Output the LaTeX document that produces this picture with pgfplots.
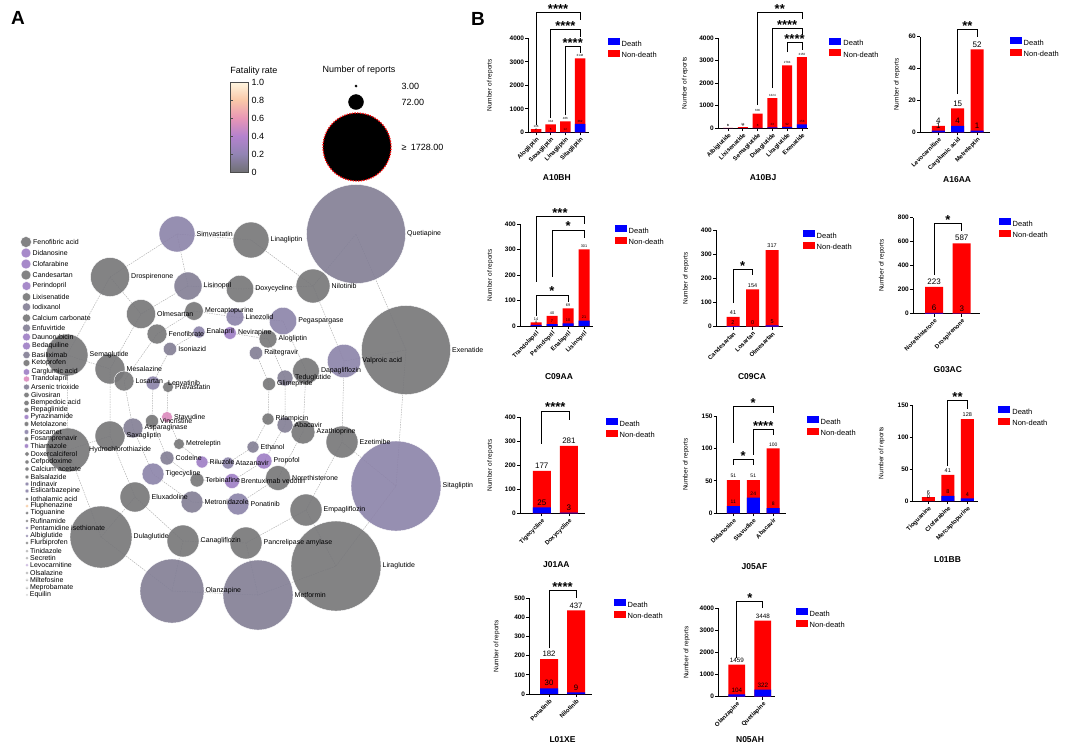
\documentclass[border=0pt]{standalone}
\usepackage{fontspec}
\setmainfont{Liberation Sans}
\usepackage{pgfplots}
\usepackage{pgfplotstable}
\pgfplotsset{compat=1.18}
\newcommand\fsz[1]{\fontsize{#1}{#1}\selectfont}

\definecolor{gcol}{RGB}{120,120,122}
\definecolor{lgcol}{RGB}{132,128,150}
\definecolor{lvcol}{RGB}{141,133,170}
\definecolor{pucol}{RGB}{160,128,198}
\definecolor{pkcol}{RGB}{220,140,190}
\definecolor{pecol}{RGB}{248,204,164}

\pgfplotsset{
  /pgf/number format/1000 sep={},
  /pgf/number format/assume math mode=true,
  colormap={fatal}{rgb255=(112,112,116) rgb255=(146,132,180) rgb255=(180,130,206) rgb255=(232,150,182) rgb255=(250,200,168) rgb255=(255,246,224)},
  bub/.style={scatter, only marks, mark=*, point meta=explicit,
    point meta min=0, point meta max=100,
    scatter/use mapped color={draw=white, fill=#1},
    scatter/@pre marker code/.append style={/tikz/mark size=\pgfplotspointmetatransformed/10},
    mark options={line width=0.4pt, fill opacity=0.92}},
  lbl/.style={only marks, mark=*, mark size=0pt, mark options={draw=none, fill=none},
    point meta=explicit symbolic, nodes near coords,
    nodes near coords style={anchor=west, inner sep=0pt, text=black, font=\fsz{7}}},
  bpanel/.style={
    scale only axis, anchor=south west, clip=false, ymin=0,
    axis x line*=bottom, axis y line*=left,
    axis line style={line width=0.9pt,-},
    tick align=outside, major tick length=3pt,
    tick style={line width=0.8pt, black},
    yticklabel style={font=\bfseries\fsz{6.5}, inner sep=1pt},
    xticklabel style={font=\bfseries\fsz{6}, rotate=45, anchor=north east, inner sep=1pt},
    ylabel={Number of reports},
    ylabel style={font=\fsz{6.5}, anchor=center},
    xlabel style={font=\bfseries\fsz{8.5}, anchor=center},
    reverse legend,
    legend style={draw=none, fill=none, inner sep=0pt, anchor=north west,
      font=\fsz{7.5}, cells={anchor=west}},
    legend image code/.code={\fill[##1, draw=none] (0pt,-1pt) rectangle (12pt,6pt);},
    nodes near coords style={text=black, inner sep=1.5pt},
  },
  ndth/.style={ybar, bar width=#1, bar shift=0pt, fill=red, draw=none, nodes near coords},
  dth/.style={ybar, bar width=#1, bar shift=0pt, fill=blue, draw=none, nodes near coords},
  brk/.style={sharp plot, black, line width=0.8pt, mark=none, forget plot},
  edge/.style={sharp plot, black, opacity=0.3, line width=0.5pt, dash pattern=on 1.5pt off 1pt, mark=none, forget plot},
}
\tikzset{stars/.style={anchor=base, font=\bfseries\fsz{13}, inner sep=0pt, yshift=-1pt}}

% bubbles by fatality-rate colour class: centre (px), radius (px), label x
\pgfplotstableread[col sep=comma]{
name,x,y,r,lx
Linagliptin,251,240,18,270.5
Drospirenone,110,277,19.5,131
Doxycycline,240,289,13.7,255.2
Nilotinib,313,286,17,331.5
Olmesartan,141,314,14.5,157
Mercaptopurine,194,311,9.3,204.8
Fenofibrate,157,334,10,168.5
Alogliptin,268,339,9,278.5
Exenatide,406,350,44.5,452
Semaglutide,67,355,21,89.5
Mesalazine,110,369,15,126.5
Losartan,124,381,10,135.5
Pravastatin,168,387,5.5,175
Dapagliflozin,306,371,13.3,320.8
Glimepiride,269,384,6.5,277
Vincristine,152,421,6.5,160
Saxagliptin,110,436,15,126.5
Hydrochlorothiazide,68,450,22,89
Rifampicin,268,419,6,275.5
Azathioprine,303,432,12,316.5
Ezetimibe,342,442,16,359.5
Metreleptin,179,444,5.5,186
Terbinafine,197,480,7,205.5
Norethisterone,278,478,12.5,292
Eluxadoline,135,497,15,151.5
Empagliflozin,306,510,16,323.5
Dulaglutide,101,537,31,133.5
Canagliflozin,183,541,16,200.5
Pancrelipase amylase,246,543,16,263.5
Liraglutide,336,566,45,382.5
Fenofibric acid,26,242,5.5,33
Candesartan,26,275,5,32.5
Lixisenatide,26.5,297,4.3,32.3
Calcium carbonate,26.5,318,4.1,32.1
Ketoprofen,26.5,363,3.5,31.5
Givosiran,26.5,395,2.8,30.8
Bempedoic acid,26.5,403,2.7,30.7
Repaglinide,26.5,410,2.6,30.6
Metolazone,26.5,424,2.4,30.4
Fosamprenavir,26.5,439,2.3,30.3
Doxercalciferol,27,454,2.2,30.7
Cefpodoxime,27,462,2.1,30.6
Calcium acetate,27,469,2.1,30.6
Balsalazide,27,477,2,30.5
Iothalamic acid,27,499,1.9,30.4
Tioguanine,27,513,1.8,30.3
Rufinamide,27,521,1.7,30.2
Flurbiprofen,27,543,1.6,30.1
Tinidazole,27,551,1.5,30
Secretin,27,558,1.5,30
Olsalazine,27,573,1.4,29.9
Miltefosine,27,580,1.3,29.8
Meprobamate,27,588,1.3,29.8
Equilin,27,595,1.2,29.7
}\tgray

\pgfplotstableread[col sep=comma]{
name,x,y,r,lx
Quetiapine,356,234,49.5,407
Lisinopril,188,286,14,203.5
Isoniazid,170,349,6.7,178.2
Raltegravir,256,353,6.7,264.2
Teduglutide,285,378,8,295
Asparaginase,133,428,10,144.5
Abacavir,285,425,8,294.5
Ethanol,253,447,6,260.5
Codeine,167,458,7,175.5
Metronidazole,192,502,11,204.5
Olanzapine,172,591,32,205.5
Metformin,258,595,35,294.5
Iodixanol,26.5,307,4.2,32.2
Enfuvirtide,26.5,328,4,32
Basiliximab,26.5,355,3.7,31.7
Arsenic trioxide,26.5,387,3,31
}\tlavgray

\pgfplotstableread[col sep=comma]{
name,x,y,r,lx
Simvastatin,177,234,18,196.5
Linezolid,235,317,9,245.5
Pegaspargase,283,321,13.7,298.2
Enalapril,199,332,6,206.5
Valproic acid,344,361,16.7,362.2
Lenvatinib,153,383,7,168
Atazanavir,228,463,6,235.5
Tigecycline,153,474,11,165.5
Ponatinib,238,504,11,250.5
Sitagliptin,396,486,45,442.5
Foscarnet,26.5,432,2.4,30.4
Indinavir,27,484,2,30.5
Eslicarbazepine,27,491,2,30.5
Pentamidine isethionate,27,528,1.7,30.2
Albiglutide,27,536,1.7,30.2
}\tlav

\pgfplotstableread[col sep=comma]{
name,x,y,r,lx
Nevirapine,230,333,6.3,237.8
Riluzole,202,462,6,209.5
Propofol,264,461,8,273.5
Brentuximab vedotin,232,481,7.5,241
Didanosine,26,253,5,32.5
Clofarabine,26,264,5,32.5
Perindopril,26.5,286,4.5,32.5
Daunorubicin,26.5,337,4,32
Bedaquiline,26.5,346,4,32
Carglumic acid,26.5,372,3.3,31.3
Pyrazinamide,26.5,417,2.5,30.5
Thiamazole,26.5,446,2.3,30.3
Levocarnitine,27,565,1.5,30
}\tpur

\pgfplotstableread[col sep=comma]{
name,x,y,r,lx
Stavudine,167,417,5.5,174
Trandolapril,26.5,379,3.1,31.1
}\tpink

\pgfplotstableread[col sep=comma]{
name,x,y,r,lx
Fluphenazine,27,506,1.8,30.3
}\tpeach

\begin{document}
\begin{tikzpicture}
\useasboundingbox (0pt,0pt) rectangle (1065pt,-745pt);

%% ---------------- panel A ----------------
\begin{axis}[at={(0pt,-745pt)}, anchor=south west, scale only axis,
  width=460pt, height=745pt, xmin=0, xmax=460, ymin=0, ymax=745,
  y dir=reverse, hide axis, clip=false]
\addplot[bub=gcol] table[x=x, y=y, meta=r] {\tgray};
\addplot[bub=lgcol] table[x=x, y=y, meta=r] {\tlavgray};
\addplot[bub=lvcol] table[x=x, y=y, meta=r] {\tlav};
\addplot[bub=pucol] table[x=x, y=y, meta=r] {\tpur};
\addplot[bub=pkcol] table[x=x, y=y, meta=r] {\tpink};
\addplot[bub=pecol] table[x=x, y=y, meta=r] {\tpeach};
\addplot[edge] coordinates {(251,240) (177,234) (110,277) (67,355) (68,450) (101,537) (172,591) (258,595) (336,566) (396,486) (406,350) (356,234)};
\addplot[edge] coordinates {(188,286) (240,289) (313,286) (344,361) (342,442) (306,510) (246,543) (183,541) (135,497) (110,436) (110,369) (141,314) (188,286)};
\addplot[edge] coordinates {(194,311) (235,317) (283,321) (306,371) (303,432) (278,478) (238,504) (192,502) (153,474) (133,428) (124,381) (157,334) (194,311)};
\addplot[edge] coordinates {(199,332) (230,333) (268,339) (285,378) (285,425) (264,461) (232,481) (197,480) (167,458) (152,421) (153,383) (170,349) (199,332)};
\addplot[edge] coordinates {(168,387) (167,417) (179,444) (202,462) (228,463) (253,447) (268,419) (269,384) (256,353)};
\addplot[edge] coordinates {(177,234) (188,286)};
\addplot[edge] coordinates {(110,277) (141,314)};
\addplot[edge] coordinates {(67,355) (110,369)};
\addplot[edge] coordinates {(68,450) (110,436)};
\addplot[edge] coordinates {(101,537) (135,497)};
\addplot[edge] coordinates {(172,591) (183,541)};
\addplot[edge] coordinates {(258,595) (246,543)};
\addplot[edge] coordinates {(336,566) (306,510)};
\addplot[edge] coordinates {(396,486) (342,442)};
\addplot[edge] coordinates {(406,350) (344,361)};
\addplot[edge] coordinates {(356,234) (313,286) (251,240)};
% labels
\addplot[lbl] table[x=lx, y=y, meta=name] {\tgray};
\addplot[lbl] table[x=lx, y=y, meta=name] {\tlavgray};
\addplot[lbl] table[x=lx, y=y, meta=name] {\tlav};
\addplot[lbl] table[x=lx, y=y, meta=name] {\tpur};
\addplot[lbl] table[x=lx, y=y, meta=name] {\tpink};
\addplot[lbl] table[x=lx, y=y, meta=name] {\tpeach};
% size legend
\addplot[only marks, mark=*, mark size=1.2pt, mark options={fill=black, draw=black}] coordinates {(356,86)};
\addplot[only marks, mark=*, mark size=7.5pt, mark options={fill=black, draw=black}] coordinates {(356,102)};
\addplot[only marks, mark=*, mark size=34pt, mark options={fill=black, draw=red, line width=1.3pt, dash pattern=on 1.3pt off 1.3pt}] coordinates {(357,147)};
\node[anchor=base, font=\fsz{9}] at (axis cs:359,72.5) {Number of reports};
\node[anchor=base, font=\fsz{9}] at (axis cs:254,73) {Fatality rate};
\node[anchor=west, font=\fsz{9}] at (axis cs:398,86) {3.00};
\node[anchor=west, font=\fsz{9}] at (axis cs:398,102) {72.00};
\node[anchor=west, font=\fsz{9}] at (axis cs:398,147) {≥\enspace 1728.00};
\end{axis}

% colour bar
\begin{axis}[at={(230pt,-172pt)}, anchor=south west, scale only axis,
  width=18pt, height=90pt, xmin=0, xmax=1, ymin=0, ymax=1,
  colormap name=fatal, point meta min=0, point meta max=1,
  xtick=\empty, ytick={0,0.2,0.4,0.6,0.8,1},
  yticklabels={0,0.2,0.4,0.6,0.8,1.0},
  ytick pos=left, yticklabel pos=right, tick align=inside,
  major tick length=2.5pt, tick style={black!70},
  yticklabel style={font=\fsz{9}},
  axis line style={black!70, line width=0.6pt}, axis on top]
\addplot[patch, patch type=rectangle, shader=interp, point meta=y] coordinates {
 (0,0) (1,0) (1,0.2) (0,0.2)
 (0,0.2) (1,0.2) (1,0.4) (0,0.4)
 (0,0.4) (1,0.4) (1,0.6) (0,0.6)
 (0,0.6) (1,0.6) (1,0.8) (0,0.8)
 (0,0.8) (1,0.8) (1,1) (0,1)};
\end{axis}

\node[font=\bfseries\fsz{19}] at (18pt,-18pt) {A};
\node[font=\bfseries\fsz{19}] at (478pt,-19pt) {B};

%% ---------------- panel B ----------------
% A10BH
\begin{axis}[bpanel, at={(528.3pt,-132.3pt)}, width=60.7pt, height=94pt,
  xmin=-0.53, xmax=3.61, ymax=4000, ytick={0,1000,2000,3000,4000},
  xtick={0,1,2,3}, xticklabels={Alogliptin,Saxagliptin,Linagliptin,Sitagliptin},
  xlabel={A10BH}, xlabel style={at={(axis description cs:0.47,-0.486)}},
  ylabel style={at={(axis description cs:-0.63,0.5)}},
  legend style={at={(axis description cs:1.305,1.003)}},
  nodes near coords style={font=\fsz{3}}]
\addplot[ndth=10.5pt] coordinates {(0,136) (1,334) (2,466) (3,3148)};
\addplot[dth=10.5pt] coordinates {(0,2) (1,6) (2,12) (3,362)};
\legend{Non-death,Death}
\addplot[brk] coordinates {(0,306) (0,5088) (3,5088) (3,4775)};
\addplot[brk] coordinates {(1,607) (1,4383) (3,4383) (3,4068)};
\addplot[brk] coordinates {(2,732) (2,3643) (3,3643) (3,3361)};
\node[stars] at (axis cs:1.5,5088) {****};
\node[stars] at (axis cs:2,4383) {****};
\node[stars] at (axis cs:2.5,3643) {****};
\end{axis}

% A10BJ
\begin{axis}[bpanel, at={(718pt,-128pt)}, width=90pt, height=90pt,
  xmin=-0.68, xmax=5.41, ymax=4000, ytick={0,1000,2000,3000,4000},
  xtick={0,...,5}, xticklabels={Albiglutide,Lixisenatide,Semaglutide,Dulaglutide,Liraglutide,Exenatide},
  xlabel={A10BJ}, xlabel style={at={(axis description cs:0.5,-0.556)}},
  ylabel style={at={(axis description cs:-0.367,0.5)}},
  legend style={at={(axis description cs:1.236,1.003)}},
  nodes near coords style={font=\fsz{3}}]
\addplot[ndth=10pt] coordinates {(0,6) (1,34) (2,636) (3,1324) (4,2784) (5,3150)};
\addplot[dth=10pt] coordinates {(0,0) (1,0) (2,8) (3,23) (4,52) (5,158)};
\legend{Non-death,Death}
\addplot[brk] coordinates {(2,1020) (2,5124) (5,5124) (5,4826)};
\addplot[brk] coordinates {(3,1776) (3,4427) (5,4427) (5,4130)};
\addplot[brk] coordinates {(4,3375) (4,3787) (5,3787) (5,3463)};
\node[stars] at (axis cs:3.5,5124) {**};
\node[stars] at (axis cs:4,4427) {****};
\node[stars] at (axis cs:4.5,3787) {****};
\end{axis}

% A16AA
\begin{axis}[bpanel, at={(920pt,-132.3pt)}, width=70pt, height=95.6pt,
  xmin=-0.95, xmax=2.67, ymax=60, ytick={0,20,40,60},
  xtick={0,1,2}, xticklabels={Levocarnitine,Carglumic acid,Metreleptin},
  xlabel={A16AA}, xlabel style={at={(axis description cs:0.53,-0.499)}},
  ylabel style={at={(axis description cs:-0.329,0.5)}},
  legend style={at={(axis description cs:1.279,0.997)}},
  nodes near coords style={font=\fsz{8}, inner sep=2pt}]
\addplot[ndth=13pt] coordinates {(0,4) (1,15) (2,52)};
\addplot[dth=13pt] coordinates {(0,1) (1,4) (2,1)};
\legend{Non-death,Death}
\addplot[brk] coordinates {(1,24) (1,64.8) (2,64.8) (2,60)};
\node[stars] at (axis cs:1.5,64.8) {**};
\end{axis}

% C09AA
\begin{axis}[bpanel, at={(520pt,-326pt)}, width=73pt, height=101.7pt,
  xmin=-1, xmax=3.56, ymax=400, ytick={0,100,200,300,400},
  xtick={0,1,2,3}, xticklabels={Trandolapril,Perindopril,Enalapril,Lisinopril},
  xlabel={C09AA}, xlabel style={at={(axis description cs:0.534,-0.5)}},
  ylabel style={at={(axis description cs:-0.41,0.5)}},
  legend style={at={(axis description cs:1.295,0.993)}},
  nodes near coords style={font=\fsz{3.8}}]
\addplot[ndth=11pt] coordinates {(0,14) (1,40) (2,69) (3,301)};
\addplot[dth=11pt] coordinates {(0,4) (1,7) (2,10) (3,21)};
\legend{Non-death,Death}
\addplot[brk] coordinates {(0,174) (0,430) (3,430) (3,401)};
\addplot[brk] coordinates {(1,194) (1,378) (3,378) (3,347)};
\addplot[brk] coordinates {(0,39) (0,122) (2,122) (2,96)};
\node[stars] at (axis cs:1.5,430) {***};
\node[stars] at (axis cs:2,378) {*};
\node[stars] at (axis cs:1,122) {*};
\end{axis}

% C09CA
\begin{axis}[bpanel, at={(716pt,-326.7pt)}, width=67pt, height=96.7pt,
  xmin=-0.87, xmax=2.56, ymax=400, ytick={0,100,200,300,400},
  xtick={0,1,2}, xticklabels={Candesartan,Losartan,Olmesartan},
  xlabel={C09CA}, xlabel style={at={(axis description cs:0.537,-0.52)}},
  ylabel style={at={(axis description cs:-0.448,0.5)}},
  legend style={at={(axis description cs:1.291,1.0)}},
  nodes near coords style={font=\fsz{5.5}, inner sep=2pt}]
\addplot[ndth=13pt] coordinates {(0,41) (1,154) (2,317)};
\addplot[dth=13pt] coordinates {(0,2) (1,0) (2,5)};
\legend{Non-death,Death}
\addplot[brk] coordinates {(0,98) (0,237) (1,237) (1,214)};
\node[stars] at (axis cs:0.5,237) {*};
\end{axis}

% G03AC
\begin{axis}[bpanel, at={(913pt,-313.7pt)}, width=67pt, height=96pt,
  xmin=-0.76, xmax=1.66, ymax=800, ytick={0,200,400,600,800},
  xtick={0,1}, xticklabels={Norethisterone,Drospirenone},
  xlabel={G03AC}, xlabel style={at={(axis description cs:0.52,-0.586)}},
  ylabel style={at={(axis description cs:-0.463,0.5)}},
  legend style={at={(axis description cs:1.276,0.997)}},
  nodes near coords style={font=\fsz{8}, inner sep=2pt}]
\addplot[ndth=18pt] coordinates {(0,223) (1,587)};
\addplot[dth=18pt] coordinates {(0,6) (1,3)};
\legend{Non-death,Death}
\addplot[brk] coordinates {(0,323) (0,753) (1,753) (1,690)};
\node[stars] at (axis cs:0.5,753) {*};
\end{axis}

% J01AA
\begin{axis}[bpanel, at={(520pt,-513.3pt)}, width=65pt, height=96pt,
  xmin=-0.8, xmax=1.59, ymax=400, ytick={0,100,200,300,400},
  xtick={0,1}, xticklabels={Tigecycline,Doxycycline},
  xlabel={J01AA}, xlabel style={at={(axis description cs:0.56,-0.539)}},
  ylabel style={at={(axis description cs:-0.46,0.5)}},
  legend style={at={(axis description cs:1.315,0.993)}},
  nodes near coords style={font=\fsz{8}, inner sep=2pt}]
\addplot[ndth=18pt] coordinates {(0,177) (1,281)};
\addplot[dth=18pt] coordinates {(0,25) (1,3)};
\legend{Non-death,Death}
\addplot[brk] coordinates {(0,289) (0,426.4) (1,426.4) (1,389)};
\node[stars] at (axis cs:0.5,426.4) {****};
\end{axis}

% J05AF
\begin{axis}[bpanel, at={(716.7pt,-513.3pt)}, width=69.3pt, height=97.3pt,
  xmin=-0.83, xmax=2.64, ymax=150, ytick={0,50,100,150},
  xtick={0,1,2}, xticklabels={Didanosine,Stavudine,Abacavir},
  xlabel={J05AF}, xlabel style={at={(axis description cs:0.545,-0.552)}},
  ylabel style={at={(axis description cs:-0.443,0.5)}},
  legend style={at={(axis description cs:1.296,1.0)}},
  nodes near coords style={font=\fsz{5}, inner sep=2pt}]
\addplot[ndth=13pt] coordinates {(0,51) (1,51) (2,100)};
\addplot[dth=13pt] coordinates {(0,11) (1,24) (2,8)};
\legend{Non-death,Death}
\addplot[brk] coordinates {(0,108.4) (0,164.3) (2,164.3) (2,154.6)};
\addplot[brk] coordinates {(1,90) (1,129.5) (2,129.5) (2,120.7)};
\addplot[brk] coordinates {(0,74.5) (0,83.2) (1,83.2) (1,74.5)};
\node[stars] at (axis cs:1,164.3) {*};
\node[stars] at (axis cs:1.5,129.5) {****};
\node[stars] at (axis cs:0.5,83.2) {*};
\end{axis}

% L01BB
\begin{axis}[bpanel, at={(912.7pt,-501pt)}, width=65.3pt, height=96pt,
  xmin=-0.8, xmax=2.55, ymax=150, ytick={0,50,100,150},
  xtick={0,1,2}, xticklabels={Tioguanine,Clofarabine,Mercaptopurine},
  xlabel={L01BB}, xlabel style={at={(axis description cs:0.533,-0.615)}},
  ylabel style={at={(axis description cs:-0.475,0.5)}},
  legend style={at={(axis description cs:1.309,0.99)}},
  nodes near coords style={font=\fsz{5.5}, inner sep=2pt}]
\addplot[ndth=13pt] coordinates {(0,6) (1,41) (2,128)};
\addplot[dth=13pt] coordinates {(0,0) (1,8) (2,4)};
\legend{Non-death,Death}
\addplot[brk] coordinates {(1,54.7) (1,156.7) (2,156.7) (2,143.3)};
\node[stars] at (axis cs:1.5,156.7) {**};
\end{axis}

% L01XE
\begin{axis}[bpanel, at={(529.3pt,-694pt)}, width=62.4pt, height=95.7pt,
  xmin=-0.73, xmax=1.58, ymax=500, ytick={0,100,200,300,400,500},
  xtick={0,1}, xticklabels={Ponatinib,Nilotinib},
  xlabel={L01XE}, xlabel style={at={(axis description cs:0.532,-0.48)}},
  ylabel style={at={(axis description cs:-0.522,0.5)}},
  legend style={at={(axis description cs:1.349,0.993)}},
  nodes near coords style={font=\fsz{7.8}, inner sep=2pt}]
\addplot[ndth=18pt] coordinates {(0,182) (1,437)};
\addplot[dth=18pt] coordinates {(0,30) (1,9)};
\legend{Non-death,Death}
\addplot[brk] coordinates {(0,238.8) (0,539.7) (1,539.7) (1,500)};
\node[stars] at (axis cs:0.5,539.7) {****};
\end{axis}

% N05AH
\begin{axis}[bpanel, at={(718.3pt,-696.7pt)}, width=56.7pt, height=88.3pt,
  xmin=-0.71, xmax=1.47, ymax=4000, ytick={0,1000,2000,3000,4000},
  xtick={0,1}, xticklabels={Olanzapine,Quetiapine},
  xlabel={N05AH}, xlabel style={at={(axis description cs:0.56,-0.49)}},
  ylabel style={at={(axis description cs:-0.557,0.5)}},
  legend style={at={(axis description cs:1.362,1.005)}},
  nodes near coords style={font=\fsz{6.3}, inner sep=2pt}]
\addplot[ndth=16.7pt] coordinates {(0,1459) (1,3448)};
\addplot[dth=16.7pt] coordinates {(0,104) (1,322)};
\legend{Non-death,Death}
\addplot[brk] coordinates {(0,1739) (0,4303) (1,4303) (1,4032)};
\node[stars] at (axis cs:0.5,4303) {*};
\end{axis}
\end{tikzpicture}
\end{document}
